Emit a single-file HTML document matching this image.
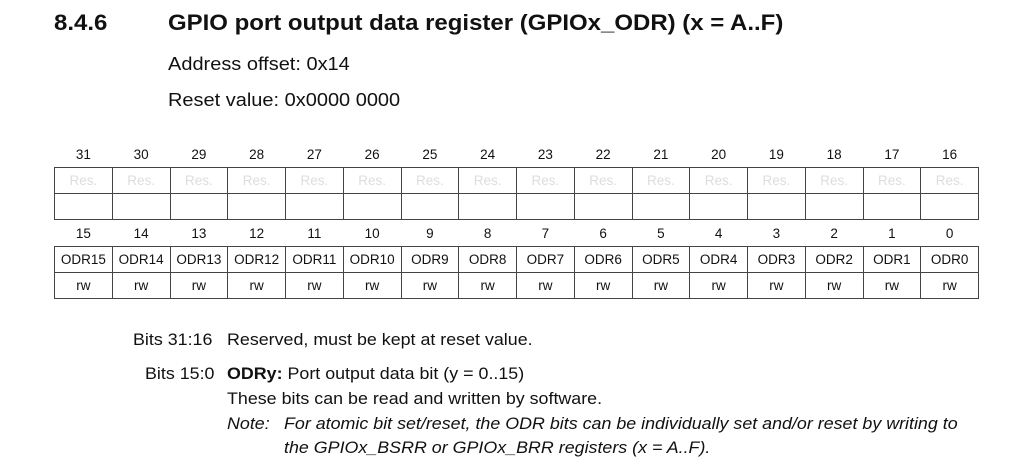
<!DOCTYPE html>
<html><head><meta charset="utf-8"><style>
body{margin:0;width:1024px;height:468px;background:#fff;position:relative;overflow:hidden;font-family:"Liberation Sans",Arial,sans-serif;color:#111}
.a{position:absolute;white-space:nowrap;line-height:1;transform-origin:0 50%}
table{position:absolute;left:54px;top:141px;border-collapse:collapse;table-layout:fixed;width:924px;font-size:13.5px}
td{height:25px;padding:0;text-align:center;width:57.75px}
.b td{border:1px solid #444}
.h td{border:none;height:26px;color:#111}
.r td{color:#ddd}
.t{font-size:22px;font-weight:bold;transform:scaleX(1.09)}
.s{font-size:18px;transform:scaleX(1.11)}
.n{font-size:17px;transform:scaleX(1.05)}
</style></head><body>
<div class="a t" style="left:54px;top:12px">8.4.6</div>
<div class="a t" style="left:168px;top:12px">GPIO port output data register (GPIOx_ODR) (x = A..F)</div>
<div class="a s" style="left:168px;top:55px">Address offset: 0x14</div>
<div class="a s" style="left:168px;top:91px">Reset value: 0x0000 0000</div>
<table>
<tr class="h"><td>31</td><td>30</td><td>29</td><td>28</td><td>27</td><td>26</td><td>25</td><td>24</td><td>23</td><td>22</td><td>21</td><td>20</td><td>19</td><td>18</td><td>17</td><td>16</td></tr>
<tr class="b r"><td>Res.</td><td>Res.</td><td>Res.</td><td>Res.</td><td>Res.</td><td>Res.</td><td>Res.</td><td>Res.</td><td>Res.</td><td>Res.</td><td>Res.</td><td>Res.</td><td>Res.</td><td>Res.</td><td>Res.</td><td>Res.</td></tr>
<tr class="b"><td></td><td></td><td></td><td></td><td></td><td></td><td></td><td></td><td></td><td></td><td></td><td></td><td></td><td></td><td></td><td></td></tr>
<tr class="h"><td>15</td><td>14</td><td>13</td><td>12</td><td>11</td><td>10</td><td>9</td><td>8</td><td>7</td><td>6</td><td>5</td><td>4</td><td>3</td><td>2</td><td>1</td><td>0</td></tr>
<tr class="b"><td>ODR15</td><td>ODR14</td><td>ODR13</td><td>ODR12</td><td>ODR11</td><td>ODR10</td><td>ODR9</td><td>ODR8</td><td>ODR7</td><td>ODR6</td><td>ODR5</td><td>ODR4</td><td>ODR3</td><td>ODR2</td><td>ODR1</td><td>ODR0</td></tr>
<tr class="b"><td>rw</td><td>rw</td><td>rw</td><td>rw</td><td>rw</td><td>rw</td><td>rw</td><td>rw</td><td>rw</td><td>rw</td><td>rw</td><td>rw</td><td>rw</td><td>rw</td><td>rw</td><td>rw</td></tr>
</table>
<div class="a n" style="left:133px;top:331px">Bits 31:16</div>
<div class="a n" style="left:227px;top:331px">Reserved, must be kept at reset value.</div>
<div class="a n" style="left:145px;top:365px">Bits 15:0</div>
<div class="a n" style="left:227px;top:365px"><b>ODRy:</b> Port output data bit (y = 0..15)</div>
<div class="a n" style="left:227px;top:390px">These bits can be read and written by software.</div>
<div class="a n" style="left:227px;top:415px;font-style:italic">Note:</div>
<div class="a n" style="left:284px;top:415px;font-style:italic">For atomic bit set/reset, the ODR bits can be individually set and/or reset by writing to</div>
<div class="a n" style="left:284px;top:439px;font-style:italic">the GPIOx_BSRR or GPIOx_BRR registers (x = A..F).</div>
</body></html>
